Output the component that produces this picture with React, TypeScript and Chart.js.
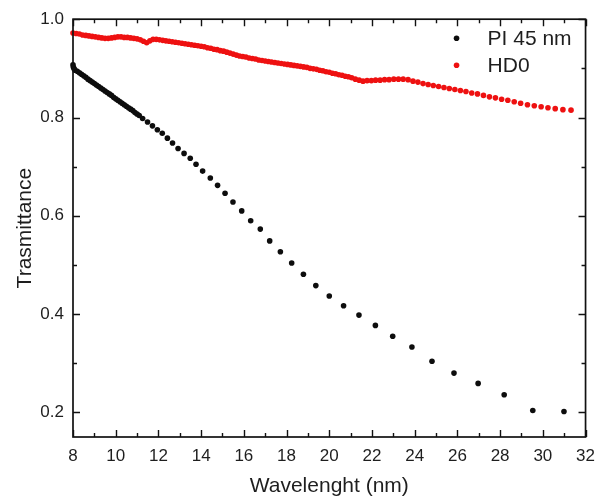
import React, { useEffect, useRef } from "react";
import { Chart, registerables } from "chart.js";

Chart.register(...registerables);

const seriesNames = ["PI 45 nm", "HD0"];
const seriesColors = ["#0d0d0d", "#ee1111"];

// PI 45 nm: [wavelength (nm), transmittance]
const piPoints: [number, number][] = [
  [8.0, 0.907], [8.02, 0.902], [8.05, 0.899], [8.1, 0.896], [8.2, 0.894], [8.3, 0.891], [8.4, 0.888],
  [8.5, 0.885], [8.6, 0.882], [8.7, 0.878], [8.8, 0.875], [8.9, 0.872], [9.0, 0.869],
  [9.1, 0.866], [9.2, 0.863], [9.3, 0.86], [9.4, 0.857], [9.5, 0.854], [9.6, 0.851],
  [9.7, 0.848], [9.8, 0.845], [9.9, 0.841], [10.0, 0.838], [10.1, 0.835], [10.2, 0.832],
  [10.3, 0.829], [10.4, 0.826], [10.5, 0.823], [10.6, 0.82], [10.7, 0.817], [10.8, 0.814],
  [10.9, 0.81], [11.0, 0.807], [11.1, 0.804], [11.26, 0.798], [11.49, 0.791], [11.72, 0.783],
  [11.95, 0.775], [12.18, 0.768], [12.42, 0.758], [12.66, 0.748], [12.92, 0.737], [13.2, 0.727],
  [13.49, 0.717], [13.76, 0.705], [14.07, 0.691], [14.43, 0.677], [14.77, 0.662], [15.12, 0.646],
  [15.49, 0.628], [15.9, 0.61], [16.32, 0.59], [16.77, 0.573], [17.21, 0.549], [17.71, 0.527],
  [18.24, 0.504], [18.79, 0.481], [19.37, 0.458], [20.0, 0.437], [20.67, 0.417], [21.39, 0.398],
  [22.16, 0.377], [22.97, 0.355], [23.87, 0.333], [24.81, 0.304], [25.84, 0.28], [26.97, 0.259],
  [28.19, 0.236], [29.53, 0.204], [30.99, 0.202],
];

// HD0: [wavelength (nm), transmittance]
const hdPoints: [number, number][] = [
  [8.0, 0.972], [8.15, 0.971], [8.3, 0.97], [8.45, 0.968], [8.6, 0.967], [8.75, 0.966],
  [8.9, 0.965], [9.05, 0.964], [9.2, 0.963], [9.35, 0.962], [9.5, 0.961], [9.65, 0.961],
  [9.8, 0.962], [9.95, 0.963], [10.1, 0.964], [10.25, 0.964], [10.4, 0.963], [10.55, 0.963],
  [10.7, 0.962], [10.85, 0.961], [11.0, 0.96], [11.15, 0.958], [11.3, 0.955], [11.45, 0.952],
  [11.6, 0.956], [11.75, 0.959], [11.9, 0.959], [12.05, 0.958], [12.2, 0.957], [12.35, 0.956],
  [12.5, 0.955], [12.65, 0.954], [12.8, 0.953], [12.95, 0.952], [13.1, 0.951], [13.25, 0.95],
  [13.4, 0.949], [13.55, 0.948], [13.7, 0.947], [13.85, 0.946], [14.0, 0.945], [14.15, 0.944],
  [14.3, 0.942], [14.45, 0.941], [14.6, 0.939], [14.75, 0.938], [14.9, 0.936], [15.05, 0.935],
  [15.2, 0.933], [15.35, 0.931], [15.5, 0.929], [15.65, 0.927], [15.8, 0.925], [15.95, 0.924],
  [16.1, 0.923], [16.25, 0.921], [16.4, 0.92], [16.55, 0.919], [16.7, 0.917], [16.85, 0.916],
  [17.0, 0.915], [17.15, 0.914], [17.3, 0.913], [17.45, 0.912], [17.6, 0.911], [17.75, 0.91],
  [17.9, 0.909], [18.05, 0.908], [18.2, 0.907], [18.35, 0.906], [18.5, 0.905], [18.65, 0.904],
  [18.8, 0.903], [18.95, 0.902], [19.1, 0.9], [19.25, 0.899], [19.4, 0.898], [19.55, 0.896],
  [19.7, 0.895], [19.85, 0.893], [20.0, 0.892], [20.15, 0.89], [20.3, 0.889], [20.45, 0.887],
  [20.6, 0.886], [20.75, 0.884], [20.9, 0.883], [21.05, 0.881], [21.22, 0.878], [21.4, 0.876],
  [21.58, 0.874], [21.77, 0.875], [21.97, 0.875], [22.17, 0.876], [22.38, 0.876], [22.59, 0.877],
  [22.8, 0.877], [23.02, 0.878], [23.24, 0.878], [23.46, 0.878], [23.69, 0.877], [23.92, 0.874],
  [24.15, 0.872], [24.39, 0.869], [24.63, 0.867], [24.87, 0.865], [25.12, 0.863], [25.37, 0.861],
  [25.62, 0.859], [25.88, 0.857], [26.14, 0.855], [26.4, 0.853], [26.67, 0.85], [26.94, 0.848],
  [27.22, 0.845], [27.5, 0.842], [27.78, 0.84], [28.07, 0.837], [28.36, 0.835], [28.66, 0.832],
  [28.96, 0.829], [29.28, 0.826], [29.6, 0.824], [29.92, 0.822], [30.24, 0.82], [30.58, 0.818],
  [30.94, 0.816], [31.32, 0.815],
];

const xMajorTicks = [8, 10, 12, 14, 16, 18, 20, 22, 24, 26, 28, 30, 32];
const xMinorTicks = [9, 11, 13, 15, 17, 19, 21, 23, 25, 27, 29, 31];
const yMajorTicks = [0.2, 0.4, 0.6, 0.8, 1.0];
const yMinorTicks = [0.3, 0.5, 0.7, 0.9];

const FONT = "'Liberation Sans', Arial, sans-serif";
const TEXT = "#1e1e1e";

const framePlugin = {
  id: "frameTicks",
  afterDatasetsDraw(chart: any) {
    const { ctx, chartArea: a, scales } = chart;
    const xs = scales.x;
    const ys = scales.y;
    ctx.save();
    ctx.strokeStyle = "#111111";
    ctx.lineWidth = 1.7;
    ctx.strokeRect(a.left, a.top, a.right - a.left, a.bottom - a.top);
    ctx.lineWidth = 1.4;
    const drawX = (v: number, len: number) => {
      const p = Math.round(xs.getPixelForValue(v)) + 0.5;
      ctx.beginPath();
      ctx.moveTo(p, a.bottom);
      ctx.lineTo(p, a.bottom - len);
      ctx.moveTo(p, a.top);
      ctx.lineTo(p, a.top + len);
      ctx.stroke();
    };
    const drawY = (v: number, len: number) => {
      const p = Math.round(ys.getPixelForValue(v)) + 0.5;
      ctx.beginPath();
      ctx.moveTo(a.left, p);
      ctx.lineTo(a.left + len, p);
      ctx.moveTo(a.right, p);
      ctx.lineTo(a.right - len, p);
      ctx.stroke();
    };
    xMajorTicks.forEach((v) => drawX(v, 7));
    xMinorTicks.forEach((v) => drawX(v, 4));
    yMajorTicks.forEach((v) => drawY(v, 7));
    yMinorTicks.forEach((v) => drawY(v, 4));

    // legend inside the plot, top-right
    ctx.font = `21px ${FONT}`;
    ctx.textBaseline = "middle";
    ctx.textAlign = "left";
    chart.data.datasets.forEach((ds: any, i: number) => {
      const cy = a.top + 19 + i * 27;
      const dx = a.right - 129;
      ctx.fillStyle = ds.backgroundColor;
      ctx.beginPath();
      ctx.arc(dx, cy, 2.8, 0, Math.PI * 2);
      ctx.fill();
      ctx.fillStyle = TEXT;
      ctx.fillText(ds.label, dx + 31, cy + 1);
    });
    ctx.restore();
  },
};

export default function App() {
  const ref = useRef<HTMLCanvasElement | null>(null);

  useEffect(() => {
    document.body.style.margin = "0";
    const canvas = ref.current;
    if (!canvas) return;
    const chart = new Chart(canvas, {
      type: "scatter",
      data: {
        datasets: [
          {
            label: seriesNames[0],
            data: piPoints.map(([x, y]) => ({ x, y })),
            backgroundColor: seriesColors[0],
            borderColor: seriesColors[0],
            pointRadius: 2.8,
            pointBorderWidth: 0,
            clip: false,
          },
          {
            label: seriesNames[1],
            data: hdPoints.map(([x, y]) => ({ x, y })),
            backgroundColor: seriesColors[1],
            borderColor: seriesColors[1],
            pointRadius: 2.8,
            pointBorderWidth: 0,
            clip: false,
          },
        ],
      },
      options: {
        animation: false,
        responsive: false,
        devicePixelRatio: 1,
        layout: { padding: { left: 0, top: 18, right: 11, bottom: 0 } },
        plugins: {
          legend: { display: false },
          tooltip: { enabled: false },
        },
        scales: {
          x: {
            type: "linear",
            position: "bottom",
            min: 8,
            max: 32,
            afterBuildTicks: (s: any) => {
              s.ticks = xMajorTicks.map((v) => ({ value: v }));
            },
            afterFit: (s: any) => {
              s.height = 60;
            },
            grid: { display: false, drawTicks: false },
            border: { display: false },
            ticks: {
              font: { family: FONT, size: 17 },
              color: TEXT,
              padding: 9,
              maxRotation: 0,
              autoSkip: false,
            },
            title: {
              display: true,
              text: "Wavelenght (nm)",
              font: { family: FONT, size: 21, lineHeight: 1 },
              color: TEXT,
              padding: { top: 0, bottom: 0 },
            },
          },
          y: {
            type: "linear",
            min: 0.15,
            max: 1.0,
            afterBuildTicks: (s: any) => {
              s.ticks = yMajorTicks.map((v) => ({ value: v }));
            },
            afterFit: (s: any) => {
              s.width = 73;
            },
            grid: { display: false, drawTicks: false },
            border: { display: false },
            ticks: {
              font: { family: FONT, size: 17 },
              color: TEXT,
              padding: 9,
              callback: (v: any) => Number(v).toFixed(1),
            },
            title: {
              display: true,
              text: "Trasmittance",
              font: { family: FONT, size: 21, lineHeight: 1 },
              color: TEXT,
              padding: { top: 15, bottom: 0 },
            },
          },
        },
      },
      plugins: [framePlugin],
    });
    return () => chart.destroy();
  }, []);

  return <canvas ref={ref} width={604} height={497} style={{ display: "block" }} />;
}
